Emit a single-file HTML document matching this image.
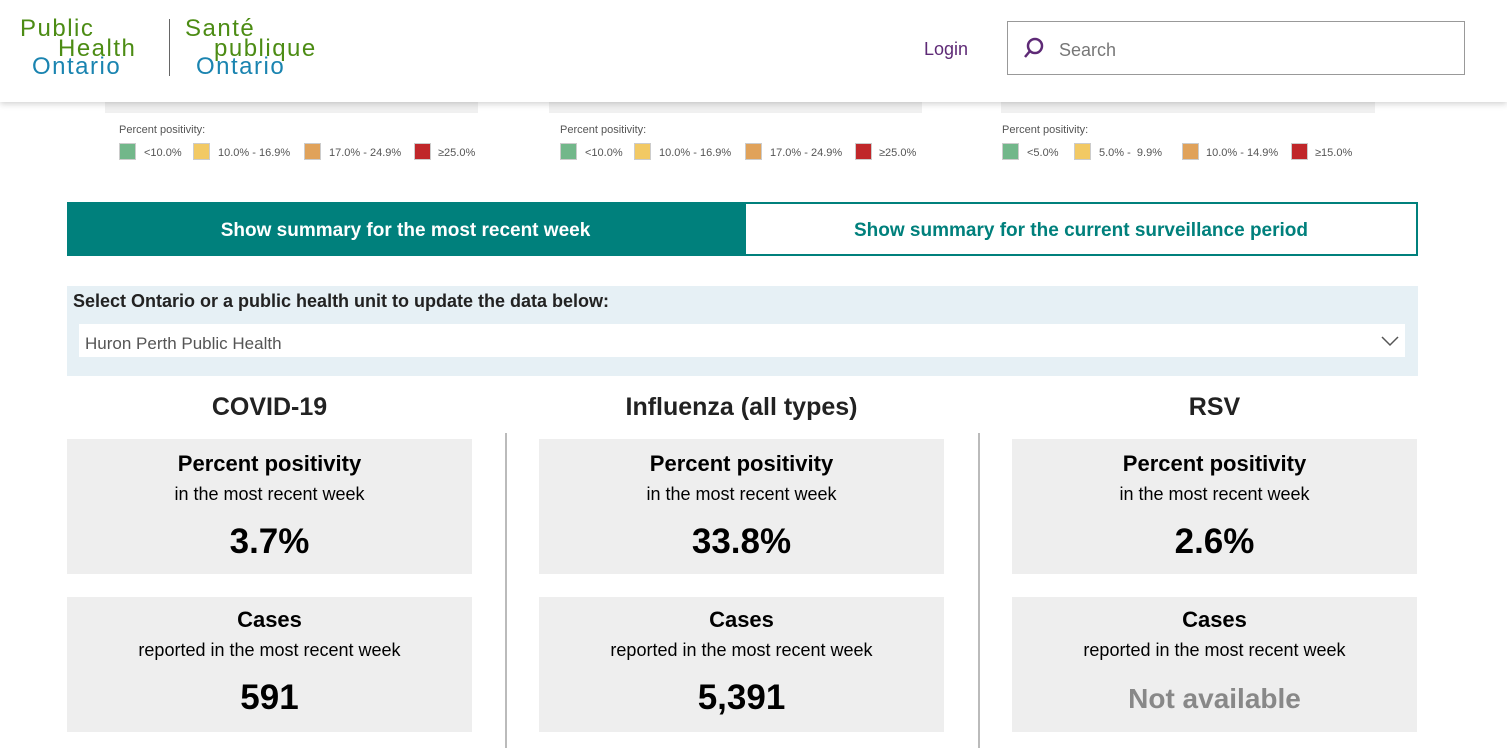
<!DOCTYPE html>
<html><head><meta charset="utf-8"><style>
*{margin:0;padding:0;box-sizing:border-box}
body{width:1507px;height:748px;overflow:hidden;background:#fff;font-family:"Liberation Sans",sans-serif;position:relative}
.a{position:absolute}
.hdr{left:0;top:0;width:1507px;height:102px;background:#fff;box-shadow:0 2px 6px rgba(0,0,0,.18);z-index:2}
.strip{top:102px;height:11px;background:#f0f0f0}
.lg{font-size:11px;color:#555}
.sq{position:absolute;width:17px;height:17px;border:1px solid #ccc}
.g{background:#72b78a}.y{background:#f2c964}.o{background:#e0a25a}.r{background:#c0272a}
.card{background:#eeeeee;width:405px;height:135px;text-align:center;color:#000}
.card .t{font-weight:bold;font-size:22px;margin-top:12px;height:33px}
.card .s{font-size:18px;height:38px}
.card .v{font-weight:bold;font-size:35px}
.ttl{width:405px;text-align:center;font-size:25px;top:393px;color:#222}
.div{width:2px;background:#bbb;top:433px;height:315px}
.logo{font-size:24px;line-height:20px;letter-spacing:1.5px}
</style></head><body>
<div class="a hdr">
 <div class="a logo" style="left:20px;top:19px;color:#4c8c14">Public<br><span style="padding-left:38px">Health</span></div>
 <div class="a logo" style="left:32px;top:57px;color:#1a84b0">Ontario</div>
 <div class="a" style="left:169px;top:19px;width:1px;height:57px;background:#666"></div>
 <div class="a logo" style="left:185px;top:19px;color:#4c8c14">Santé<br><span style="padding-left:29px">publique</span></div>
 <div class="a logo" style="left:196px;top:57px;color:#1a84b0">Ontario</div>
 <div class="a" style="left:924px;top:39px;font-size:18px;color:#5e2a76">Login</div>
 <div class="a" style="left:1007px;top:21px;width:458px;height:54px;border:1px solid #999"></div>
 <svg class="a" style="left:1022px;top:36px" width="24" height="24"><circle cx="13" cy="10" r="7" fill="none" stroke="#5e2a76" stroke-width="2.5"/><line x1="8" y1="15" x2="3" y2="21" stroke="#5e2a76" stroke-width="2.5"/></svg>
 <div class="a" style="left:1059px;top:40px;font-size:18px;color:#777">Search</div>
</div>
<div class="a strip" style="left:105px;width:373px"></div>
<div class="a strip" style="left:549px;width:373px"></div>
<div class="a strip" style="left:1001px;width:374px"></div>

<div class="a lg" style="left:119px;top:124px">Percent positivity:</div>
<div class="sq g" style="left:119px;top:143px"></div><div class="a lg" style="left:144px;top:147px">&lt;10.0%</div>
<div class="sq y" style="left:193px;top:143px"></div><div class="a lg" style="left:218px;top:147px">10.0% - 16.9%</div>
<div class="sq o" style="left:304px;top:143px"></div><div class="a lg" style="left:329px;top:147px">17.0% - 24.9%</div>
<div class="sq r" style="left:414px;top:143px"></div><div class="a lg" style="left:438px;top:147px">≥25.0%</div>

<div class="a lg" style="left:560px;top:124px">Percent positivity:</div>
<div class="sq g" style="left:560px;top:143px"></div><div class="a lg" style="left:585px;top:147px">&lt;10.0%</div>
<div class="sq y" style="left:634px;top:143px"></div><div class="a lg" style="left:659px;top:147px">10.0% - 16.9%</div>
<div class="sq o" style="left:745px;top:143px"></div><div class="a lg" style="left:770px;top:147px">17.0% - 24.9%</div>
<div class="sq r" style="left:855px;top:143px"></div><div class="a lg" style="left:879px;top:147px">≥25.0%</div>

<div class="a lg" style="left:1002px;top:124px">Percent positivity:</div>
<div class="sq g" style="left:1002px;top:143px"></div><div class="a lg" style="left:1027px;top:147px">&lt;5.0%</div>
<div class="sq y" style="left:1074px;top:143px"></div><div class="a lg" style="left:1099px;top:147px">5.0% -&nbsp;&nbsp;9.9%</div>
<div class="sq o" style="left:1182px;top:143px"></div><div class="a lg" style="left:1206px;top:147px">10.0% - 14.9%</div>
<div class="sq r" style="left:1291px;top:143px"></div><div class="a lg" style="left:1315px;top:147px">≥15.0%</div>

<div class="a" style="left:67px;top:202px;width:677px;height:54px;background:#00807c;color:#fff;font-weight:bold;font-size:19px;text-align:center;line-height:58px">Show summary for the most recent week</div>
<div class="a" style="left:744px;top:202px;width:674px;height:54px;border:2px solid #00807c;color:#00807c;font-weight:bold;font-size:19px;text-align:center;line-height:54px">Show summary for the current surveillance period</div>

<div class="a" style="left:67px;top:286px;width:1351px;height:90px;background:#e6f0f5"></div>
<div class="a" style="left:73px;top:291px;font-weight:bold;font-size:18px;color:#222">Select Ontario or a public health unit to update the data below:</div>
<div class="a" style="left:79px;top:324px;width:1326px;height:33px;background:#fff"></div>
<div class="a" style="left:85px;top:334px;font-size:17px;color:#555">Huron Perth Public Health</div>
<svg class="a" style="left:1380px;top:334px" width="20" height="14"><polyline points="2,3 10,11 18,3" fill="none" stroke="#555" stroke-width="1.5"/></svg>

<div class="a ttl" style="left:67px;font-weight:bold">COVID-19</div>
<div class="a ttl" style="left:539px;font-weight:bold">Influenza (all types)</div>
<div class="a ttl" style="left:1012px;font-weight:bold">RSV</div>
<div class="a div" style="left:505px"></div>
<div class="a div" style="left:978px"></div>

<div class="a card" style="left:67px;top:439px"><div class="t">Percent positivity</div><div class="s">in the most recent week</div><div class="v">3.7%</div></div>
<div class="a card" style="left:539px;top:439px"><div class="t">Percent positivity</div><div class="s">in the most recent week</div><div class="v">33.8%</div></div>
<div class="a card" style="left:1012px;top:439px"><div class="t">Percent positivity</div><div class="s">in the most recent week</div><div class="v">2.6%</div></div>
<div class="a card" style="left:67px;top:597px"><div class="t" style="margin-top:10px">Cases</div><div class="s">reported in the most recent week</div><div class="v">591</div></div>
<div class="a card" style="left:539px;top:597px"><div class="t" style="margin-top:10px">Cases</div><div class="s">reported in the most recent week</div><div class="v">5,391</div></div>
<div class="a card" style="left:1012px;top:597px"><div class="t" style="margin-top:10px">Cases</div><div class="s">reported in the most recent week</div><div class="v" style="color:#888;font-size:28px;padding-top:5px">Not available</div></div>
</body></html>
